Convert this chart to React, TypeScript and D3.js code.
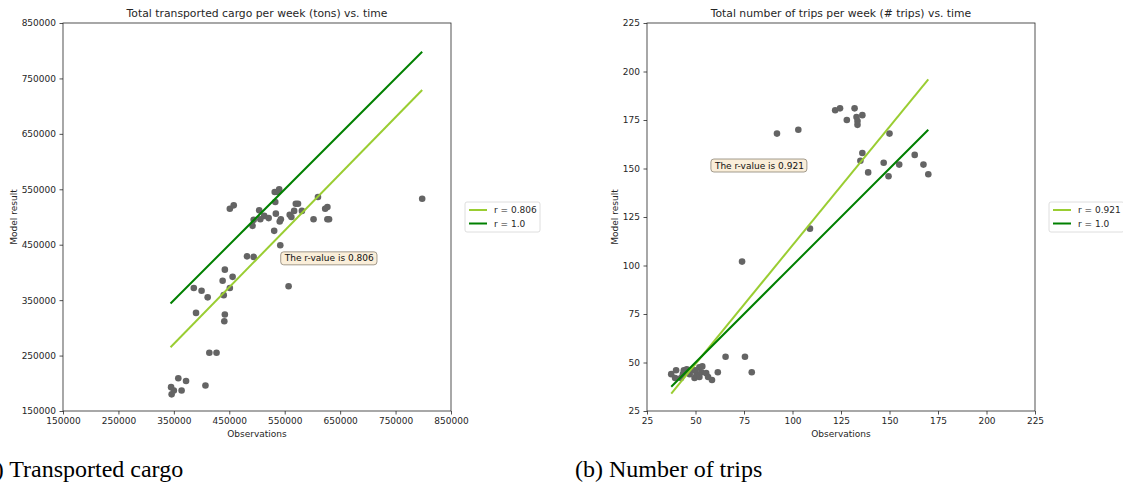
import { useRef, useEffect } from "react";
import * as d3 from "d3";

// Panel (a): transported cargo per week (tons)
const cargoObs = [
  798000, 610000, 627000, 623000, 627000, 630000, 602000, 570000, 574000, 581000,
  567000, 559000, 562000, 540000, 532000, 537000, 533000, 534000, 541000, 543000,
  531000, 542000, 557000, 504000, 513000, 521000, 506000, 494000, 492000, 451000,
  458000, 482000, 494000, 442000, 456000, 438000, 451000, 440000, 386000, 400000,
  411000, 390000, 442000, 441000, 414000, 427000, 358000, 372000, 407000, 345000,
  350000, 364000, 346000,
];
const cargoModel = [
  533000, 536000, 518000, 515000, 496000, 496000, 496000, 524000, 524000, 511000,
  511000, 504000, 500000, 550000, 545000, 545000, 527000, 506000, 492000, 496000,
  475000, 449000, 375000, 512000, 502000, 498000, 496000, 495000, 484000, 515000,
  521000, 429000, 428000, 405000, 392000, 385000, 372000, 359000, 372000, 367000,
  355000, 327000, 324000, 312000, 255000, 255000, 209000, 204000, 196000, 193000,
  187000, 187000, 180000,
];
const cargoFitX = [344000, 798000];
const cargoFitY = [265000, 729000];
const cargoIdentity = [344000, 798000];
const cargoTicks = [150000, 250000, 350000, 450000, 550000, 650000, 750000, 850000];

// Panel (b): number of trips per week
const tripsObs = [
  122, 124.5, 132, 128, 133, 133.5, 133.5, 136, 92, 103, 150, 136, 135, 139, 147,
  149.5, 155, 163, 167.5, 170, 109, 74, 65.5, 75.5, 79, 61.5, 37.5, 40, 39.5, 42.5,
  44, 45.5, 47, 48.5, 49.5, 50.5, 52, 52, 53.5, 53, 55.5, 56.5, 58.5, 46, 43.5, 50,
];
const tripsModel = [
  180, 181, 181, 175, 176.5, 174.5, 172.5, 177.5, 168, 170, 168, 158, 154, 148, 153,
  146, 152, 157, 152, 147, 119, 102, 53, 53, 45, 45, 44, 46, 42, 42, 46, 46.5, 44,
  46, 42, 43.5, 42.5, 47.5, 48, 45, 44.5, 42.5, 41, 45, 44, 46,
];
const tripsFitX = [37.5, 170];
const tripsFitY = [34, 196];
const tripsIdentity = [37.5, 170];
const tripsTicks = [25, 50, 75, 100, 125, 150, 175, 200, 225];

const FIT_COLOR = "#9acd32";
const ID_COLOR = "#008000";
const DOT_COLOR = "#646464";
const INK = "#262626";
const FONT = "'DejaVu Sans', sans-serif";
const SMALL = "9px";

interface Panel {
  title: string;
  obs: number[];
  model: number[];
  fitX: number[];
  fitY: number[];
  identity: number[];
  ticks: number[];
  rLabel: string;
  note: [number, number];
  caption: string;
  left: number;
  ylabelX: number;
  captionX: number;
}

const panels: Panel[] = [
  {
    title: "Total transported cargo per week (tons) vs. time",
    obs: cargoObs, model: cargoModel, fitX: cargoFitX, fitY: cargoFitY,
    identity: cargoIdentity, ticks: cargoTicks, rLabel: "0.806",
    note: [550000, 420000], caption: "(a) Transported cargo", left: 63, ylabelX: 14, captionX: -23,
  },
  {
    title: "Total number of trips per week (# trips) vs. time",
    obs: tripsObs, model: tripsModel, fitX: tripsFitX, fitY: tripsFitY,
    identity: tripsIdentity, ticks: tripsTicks, rLabel: "0.921",
    note: [60, 150], caption: "(b) Number of trips", left: 647, ylabelX: 615, captionX: 575,
  },
];

export default function App() {
  const svgRef = useRef<SVGSVGElement>(null);

  useEffect(() => {
    if (!svgRef.current) return;
    const svg = d3.select(svgRef.current);
    svg.selectAll("*").remove();

    const top = 23;
    const size = 388;

    panels.forEach((p) => {
      const lo = p.ticks[0];
      const hi = p.ticks[p.ticks.length - 1];
      const x = d3.scaleLinear().domain([lo, hi]).range([p.left, p.left + size]);
      const y = d3.scaleLinear().domain([lo, hi]).range([top + size, top]);
      const g = svg.append("g");

      // Axes
      g.append("g")
        .attr("transform", `translate(0,${top + size})`)
        .call(d3.axisBottom(x).tickValues(p.ticks).tickSize(3.5).tickPadding(3.5).tickFormat((d) => String(d)))
        .call((a) => a.select(".domain").remove())
        .call((a) => a.selectAll("line").attr("stroke", INK).attr("stroke-width", 0.8))
        .selectAll("text").style("font-family", FONT).style("font-size", SMALL).style("fill", INK);

      g.append("g")
        .attr("transform", `translate(${p.left},0)`)
        .call(d3.axisLeft(y).tickValues(p.ticks).tickSize(3.5).tickPadding(3.5).tickFormat((d) => String(d)))
        .call((a) => a.select(".domain").remove())
        .call((a) => a.selectAll("line").attr("stroke", INK).attr("stroke-width", 0.8))
        .selectAll("text").style("font-family", FONT).style("font-size", SMALL).style("fill", INK);

      // Points
      g.append("g")
        .selectAll("circle")
        .data(p.obs)
        .join("circle")
        .attr("cx", (d) => x(d))
        .attr("cy", (_, i) => y(p.model[i]))
        .attr("r", 3.3)
        .attr("fill", DOT_COLOR);

      // Fit and identity lines
      const line = d3.line<number>().x((d) => x(d));
      g.append("path")
        .attr("d", line.y((_, i) => y(p.fitY[i]))(p.fitX))
        .attr("fill", "none").attr("stroke", FIT_COLOR).attr("stroke-width", 2);
      g.append("path")
        .attr("d", line.y((d) => y(d))(p.identity))
        .attr("fill", "none").attr("stroke", ID_COLOR).attr("stroke-width", 2);

      // Frame
      g.append("rect")
        .attr("x", p.left).attr("y", top).attr("width", size).attr("height", size)
        .attr("fill", "none").attr("stroke", INK).attr("stroke-width", 0.8);

      // Annotation
      const note = g.append("g");
      const noteText = note.append("text")
        .attr("x", x(p.note[0])).attr("y", y(p.note[1]))
        .style("font-family", FONT).style("font-size", SMALL).style("fill", "#111")
        .text(`The r-value is ${p.rLabel}`);
      const bb = (noteText.node() as SVGTextElement).getBBox();
      note.insert("rect", ":first-child")
        .attr("x", bb.x - 3).attr("y", bb.y - 1.5)
        .attr("width", bb.width + 6).attr("height", bb.height + 3)
        .attr("rx", 3)
        .attr("fill", "#faeed9").attr("stroke", "#8c8373").attr("stroke-width", 0.8);

      // Titles and labels
      g.append("text")
        .attr("x", p.left + size / 2).attr("y", 17)
        .attr("text-anchor", "middle")
        .style("font-family", FONT).style("font-size", "10.8px").style("fill", INK)
        .text(p.title);
      g.append("text")
        .attr("x", p.left + size / 2).attr("y", 437)
        .attr("text-anchor", "middle")
        .style("font-family", FONT).style("font-size", SMALL).style("fill", INK)
        .text("Observations");
      g.append("text")
        .attr("transform", `translate(${p.ylabelX},${top + size / 2}) rotate(-90)`)
        .attr("text-anchor", "middle")
        .attr("dy", "0.35em")
        .style("font-family", FONT).style("font-size", SMALL).style("fill", INK)
        .text("Model result");

      // Legend
      const lx = p.left + size + 14;
      const legend = g.append("g").attr("transform", `translate(${lx},202)`);
      legend.append("rect")
        .attr("width", 75).attr("height", 30).attr("rx", 2)
        .attr("fill", "#fff").attr("stroke", "#d6d6d6").attr("stroke-width", 0.8);
      [
        { label: `r = ${p.rLabel}`, color: FIT_COLOR },
        { label: "r = 1.0", color: ID_COLOR },
      ].forEach((item, i) => {
        const yy = 8 + i * 13.5;
        legend.append("line")
          .attr("x1", 4).attr("x2", 22).attr("y1", yy).attr("y2", yy)
          .attr("stroke", item.color).attr("stroke-width", 2);
        legend.append("text")
          .attr("x", 29).attr("y", yy).attr("dy", "0.35em")
          .style("font-family", FONT).style("font-size", SMALL).style("fill", INK)
          .text(item.label);
      });

      // Caption
      svg.append("text")
        .attr("x", p.captionX).attr("y", 477)
        .style("font-family", "'Liberation Serif', serif").style("font-size", "24px").style("fill", "#000")
        .text(p.caption);
    });
  }, []);

  return (
    <div style={{ position: "absolute", left: 0, top: 0 }}>
      <svg ref={svgRef} width={1123} height={484} style={{ display: "block" }} />
    </div>
  );
}
